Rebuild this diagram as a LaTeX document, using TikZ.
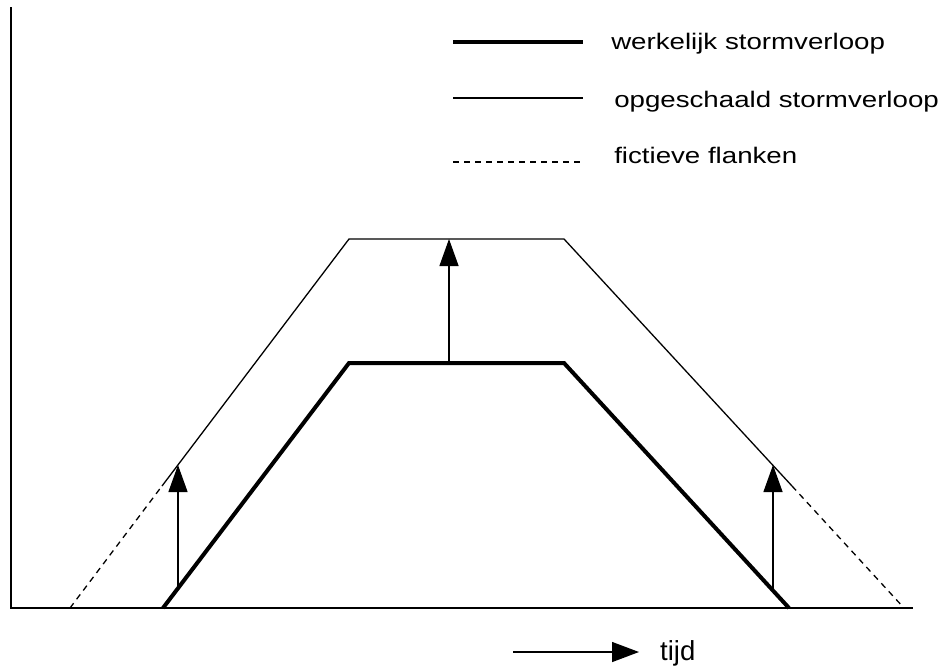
\documentclass[tikz,border=0pt]{standalone}
\usepackage{fontspec}
\setmainfont{Liberation Sans}
\usetikzlibrary{arrows.meta}
\begin{document}
\begin{tikzpicture}[x=1pt,y=-1pt,
 axisline/.style={line width=1.4pt},
 realline/.style={line width=4pt, line join=miter},
 scaledline/.style={line width=1.3pt},
 fictline/.style={line width=1.3pt, dash pattern=on 6pt off 5pt},
 liftarrow/.style={line width=1.3pt, -{Triangle[length=27pt,width=19pt]}},
 legendtext/.style={anchor=base west, inner sep=0pt, font=\fontsize{22.5}{26}\selectfont, xscale=1.23},
 timetext/.style={anchor=base west, inner sep=0pt, font=\fontsize{27.5}{30}\selectfont},
]
\useasboundingbox (0,0) rectangle (941,665);
% axes
\coordinate (ytop) at (11,7);
\coordinate (orig) at (11,608);
\coordinate (xend) at (913,608);
\draw[axisline] (ytop) -- (orig) -- (xend);
% actual storm
\coordinate (r1) at (163,608);
\coordinate (r2) at (349,363);
\coordinate (r3) at (564,363);
\coordinate (r4) at (789,608);
\draw[realline] (r1) -- (r2) -- (r3) -- (r4);
% scaled storm
\coordinate (f1) at (70,608);
\coordinate (s1) at (162,486);
\coordinate (s2) at (349,239);
\coordinate (s3) at (564,239);
\coordinate (s4) at (792,486);
\coordinate (f2) at (904,608);
\draw[scaledline] (s1) -- (s2) -- (s3) -- (s4);
\draw[fictline] (f1) -- (s1);
\draw[fictline] (s4) -- (f2);
% lift arrows
\coordinate (a1s) at (178,587);
\coordinate (a1e) at (178,465);
\coordinate (a2s) at (449,363);
\coordinate (a2e) at (449,239);
\coordinate (a3s) at (773,590);
\coordinate (a3e) at (773,465);
\draw[liftarrow] (a1s) -- (a1e);
\draw[liftarrow] (a2s) -- (a2e);
\draw[liftarrow] (a3s) -- (a3e);
% legend
\coordinate (l1a) at (453,42);
\coordinate (l1b) at (583,42);
\coordinate (l2a) at (453,98);
\coordinate (l2b) at (583,98);
\coordinate (l3a) at (453,162);
\coordinate (l3b) at (583,162);
\draw[line width=4pt] (l1a) -- (l1b);
\draw[scaledline] (l2a) -- (l2b);
\draw[fictline] (l3a) -- (l3b);
\node[legendtext] (t1) at (611,49) {werkelijk stormverloop};
\node[legendtext] (t2) at (614,107) {opgeschaald stormverloop};
\node[legendtext] (t3) at (614,163) {fictieve flanken};
% time arrow
\coordinate (ta) at (513,652);
\coordinate (tb) at (639,652);
\draw[line width=1.3pt, -{Triangle[length=27pt,width=20pt]}] (ta) -- (tb);
\node[timetext] (tijd) at (660,660) {tijd};
\end{tikzpicture}
\end{document}
